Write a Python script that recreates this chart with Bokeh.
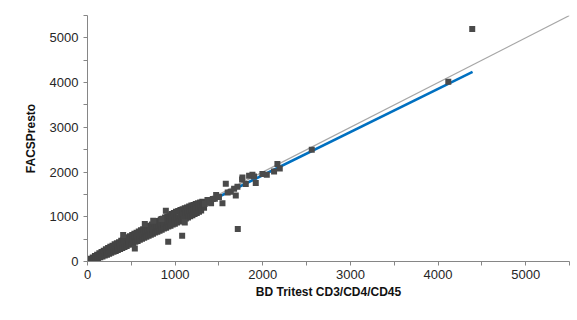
from bokeh.plotting import figure
from bokeh.models import FixedTicker, ColumnDataSource, Range1d
from bokeh.embed import file_html
from bokeh.resources import INLINE

# Dense cluster (BD Tritest x, FACSPresto y)
cluster_x = [10, 12, 22, 35, 38, 47, 60, 63, 70, 85, 88, 97, 110, 113, 121, 135, 139, 146,
             160, 163, 171, 185, 188, 197, 210, 214, 222, 235, 238, 247, 260, 263, 271,
             285, 289, 297, 310, 313, 322, 335, 338, 346, 360, 364, 372, 385, 388, 397,
             410, 413, 422, 435, 438, 447, 460, 463, 471, 485, 489, 497, 510, 513, 522,
             535, 538, 546, 560, 564, 572, 585, 588, 597, 610, 613, 622, 635, 638, 647,
             660, 664, 672, 685, 688, 697, 710, 713, 722, 735, 738, 747, 760, 764, 772,
             785, 788, 797, 810, 813, 822, 835, 838, 847, 860, 864, 872, 885, 888, 897,
             910, 913, 922, 935, 938, 947, 960, 964, 972, 985, 988, 997, 1010, 1013, 1022,
             1035, 1038, 1047, 1060, 1064, 1072, 1085, 1088, 1097, 1110, 1113, 1122,
             1135, 1138, 1147, 1160, 1164, 1172, 1185, 1188, 1197, 1210, 1213, 1222,
             1235, 1238, 1247, 1260, 1264, 1272, 1285, 1288, 1297, 1310, 1316, 1330]
cluster_y = [30, 12, 5, 62, 30, 16, 92, 55, 36, 122, 80, 52, 150, 106, 72, 182, 128, 96,
             214, 152, 112, 240, 176, 132, 272, 202, 150, 300, 226, 172, 332, 250, 194,
             352, 276, 216, 384, 296, 236, 410, 322, 256, 432, 346, 282, 466, 370, 300,
             482, 392, 326, 512, 420, 346, 540, 440, 372, 566, 466, 390, 590, 492, 416,
             622, 512, 440, 640, 540, 460, 672, 560, 486, 700, 586, 506, 722, 610, 530,
             752, 634, 556, 780, 658, 576, 802, 680, 600, 830, 706, 620, 856, 730, 646,
             880, 752, 666, 906, 778, 690, 936, 800, 712, 956, 826, 736, 986, 850, 756,
             1006, 872, 780, 1036, 898, 802, 1060, 920, 826, 1086, 946, 846, 1110, 970, 870,
             1130, 992, 892, 1152, 1018, 916, 1170, 1040, 940, 1192, 1066, 960,
             1210, 1088, 986, 1232, 1112, 1010, 1250, 1138, 1036, 1266, 1160, 1060,
             1286, 1184, 1086, 1300, 1210, 1110, 1320, 1232, 1140, 1336, 1256, 1200]

# Sparse points and outliers
sparse_x = [407, 540, 654, 750, 845, 894, 921, 1080, 1110, 1340, 1369, 1390, 1410, 1430,
            1453, 1468, 1500, 1540, 1578, 1600, 1635, 1673, 1692, 1711, 1715, 1764, 1768,
            1806, 1844, 1882, 1900, 1920, 1996, 2046, 2129, 2167, 2194, 2559, 4117, 4390]
sparse_y = [590, 291, 836, 910, 948, 1134, 441, 575, 872, 1290, 1374, 1330, 1300, 1395,
            1402, 1485, 1440, 1305, 1740, 1540, 1560, 1626, 1475, 1671, 725, 1835, 1880,
            1731, 1917, 1940, 1900, 1754, 1955, 1940, 2013, 2179, 2081, 2499, 4020, 5200]

# Lines
identity_x = [0, 5500]
identity_y = [0, 5500]
fit_x = [0, 4394]
fit_y = [3, 4237]

ticks = [0, 1000, 2000, 3000, 4000, 5000]
minor = [500, 1500, 2500, 3500, 4500, 5500]

p = figure(width=577, height=320, x_range=Range1d(0, 5500), y_range=Range1d(0, 5500),
           output_backend="svg", toolbar_location=None,
           min_border_left=87, min_border_right=8, min_border_top=15, min_border_bottom=59)
p.outline_line_color = None
p.xgrid.visible = False
p.ygrid.visible = False
p.background_fill_color = "white"

p.line(identity_x, identity_y, line_color="#a6a6a6", line_width=1.2)
p.line(fit_x, fit_y, line_color="#0070c0", line_width=2.5)

src_c = ColumnDataSource(dict(x=cluster_x, y=cluster_y))
src_s = ColumnDataSource(dict(x=sparse_x, y=sparse_y))
p.scatter("x", "y", source=src_c, marker="square", size=6, fill_color="#444444", line_color=None)
p.scatter("x", "y", source=src_s, marker="square", size=6, fill_color="#4a4a4a", line_color=None)

for ax in (p.xaxis[0], p.yaxis[0]):
    ax.ticker = FixedTicker(ticks=ticks, minor_ticks=minor)
    ax.axis_line_color = "#868686"
    ax.major_tick_line_color = "#868686"
    ax.minor_tick_line_color = "#868686"
    ax.major_tick_out = 4
    ax.major_tick_in = 0
    ax.minor_tick_out = 4
    ax.minor_tick_in = 0
    ax.major_label_text_font = "Liberation Sans"
    ax.major_label_text_font_size = "13px"
    ax.major_label_text_color = "#262626"
    ax.axis_label_text_font = "Liberation Sans"
    ax.axis_label_text_font_size = "12px"
    ax.axis_label_text_font_style = "bold"
    ax.axis_label_text_color = "#111111"

p.xaxis[0].axis_label = "BD Tritest CD3/CD4/CD45"
p.yaxis[0].axis_label = "FACSPresto"
p.xaxis[0].major_label_standoff = 4
p.xaxis[0].axis_label_standoff = 3
p.yaxis[0].major_label_standoff = 5
p.yaxis[0].axis_label_standoff = 9

open("out.html", "w").write(file_html(p, INLINE))
